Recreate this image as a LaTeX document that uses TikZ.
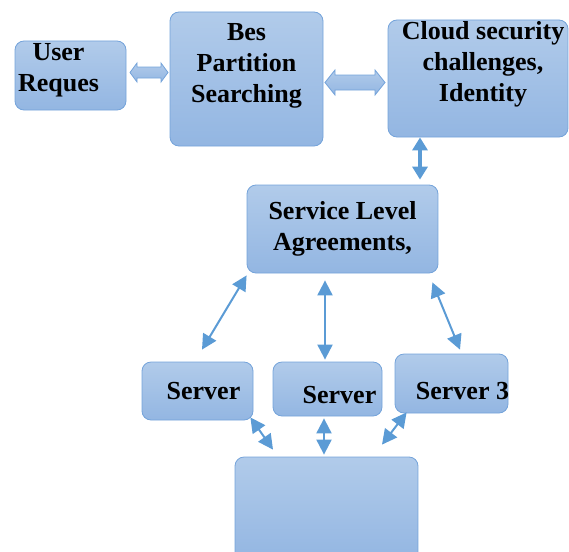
\documentclass[tikz,border=0pt]{standalone}
\usepackage{fontspec}
\setmainfont{Liberation Serif}
\usetikzlibrary{arrows.meta, positioning}
\definecolor{boxtop}{HTML}{B1CBEA}
\definecolor{boxbot}{HTML}{93B6E2}
\definecolor{boxedge}{HTML}{74A3DA}
\definecolor{arrowblue}{HTML}{5B9BD5}

% hollow double arrow: left x, right x, mid y, half shaft, half head, head length
\newcommand{\hollowarrow}[6]{%
  \draw[hollow] (#1,#3) -- (#1+#6,#3-#5) -- (#1+#6,#3-#4) -- (#2-#6,#3-#4) -- (#2-#6,#3-#5)
    -- (#2,#3) -- (#2-#6,#3+#5) -- (#2-#6,#3+#4) -- (#1+#6,#3+#4) -- (#1+#6,#3+#5) -- cycle;}

\begin{document}
\begin{tikzpicture}[
    x=1pt, y=-1pt,
    blockbox/.style={draw=boxedge, line width=0.8pt, rounded corners=9pt, top color=boxtop, bottom color=boxbot},
    txt/.style={font=\bfseries\fontsize{26}{31}\selectfont, align=center, inner sep=0pt},
    hollow/.style={draw=boxedge, line width=0.8pt, top color=boxtop, bottom color=boxbot, line join=miter},
    link/.style={arrowblue, line width=2pt, {Triangle[width=15pt,length=15pt]}-{Triangle[width=15pt,length=15pt]}}
]
\useasboundingbox (0,0) rectangle (569,551);

% Top row
\node[blockbox, minimum width=111pt, minimum height=69pt] (user_box) at (70.5,75.5) {};
\node[txt] (user_txt) at ([xshift=-12pt,yshift=5pt]user_box.center) {User\\Reques};
\node[blockbox, minimum width=153pt, minimum height=134pt] (bes_box) at (246.5,79) {};
\node[txt] (bes_txt) at ([yshift=13pt]bes_box.center) {Bes\\Partition\\Searching};
\node[blockbox, minimum width=180pt, minimum height=117pt] (cloud_box) at (478,78.5) {};
\node[txt] (cloud_txt) at ([xshift=5pt,yshift=14pt]cloud_box.center) {Cloud security\\challenges,\\Identity};

% Hollow arrows between the top boxes
\hollowarrow{130}{168}{72.5}{5.5}{9.5}{7}
\hollowarrow{325}{385}{82.5}{7.5}{12.5}{10}

% Agreements
\node[blockbox, minimum width=191pt, minimum height=88pt] (sla_box) at (342.5,229) {};
\node[txt] (sla_txt) at (sla_box.center) {Service Level\\Agreements,};
\draw[link, line width=3.5pt, {Triangle[width=15pt,length=13pt]}-{Triangle[width=15pt,length=13pt]}] (cloud_box.south -| 420,0) -- ([yshift=5pt]sla_box.north -| 420,0);

% Servers
\node[blockbox, minimum width=111pt, minimum height=58pt] (server1) at (197.5,391) {};
\node[txt] (server1_txt) at ([xshift=6pt]server1.center) {Server};
\node[blockbox, minimum width=109pt, minimum height=54pt] (server2) at (327.5,389) {};
\node[txt] (server2_txt) at ([xshift=12pt,yshift=-6pt]server2.center) {Server};
\node[blockbox, minimum width=113pt, minimum height=59pt] (server3) at (451.5,383.5) {};
\node[txt] (server3_txt) at ([xshift=11pt,yshift=-8pt]server3.center) {Server 3};

% Store at the bottom
\node[blockbox, minimum width=183pt, minimum height=104pt] (store_box) at (326.5,509) {};

% Links between agreements and servers
\draw[link] ([yshift=-2pt]sla_box.south west) -- ([xshift=4.5pt,yshift=12pt]server1.north);
\draw[link] ([xshift=-17.5pt,yshift=-7pt]sla_box.south) -- ([xshift=-2.5pt,yshift=2pt]server2.north);
\draw[link] ([xshift=-6pt,yshift=-9pt]sla_box.south east) -- ([xshift=8.5pt,yshift=4pt]server3.north);

% Links between servers and store
\draw[link] ([xshift=-3pt,yshift=3pt]server1.south east) -- ([xshift=-53.5pt,yshift=7pt]store_box.north);
\draw[link] ([xshift=-3.5pt,yshift=-2pt]server2.south) -- ([xshift=-2.5pt,yshift=2pt]store_box.north);
\draw[link] ([xshift=12pt,yshift=1pt]server3.south west) -- ([xshift=55.5pt,yshift=12pt]store_box.north);
\end{tikzpicture}
\end{document}
